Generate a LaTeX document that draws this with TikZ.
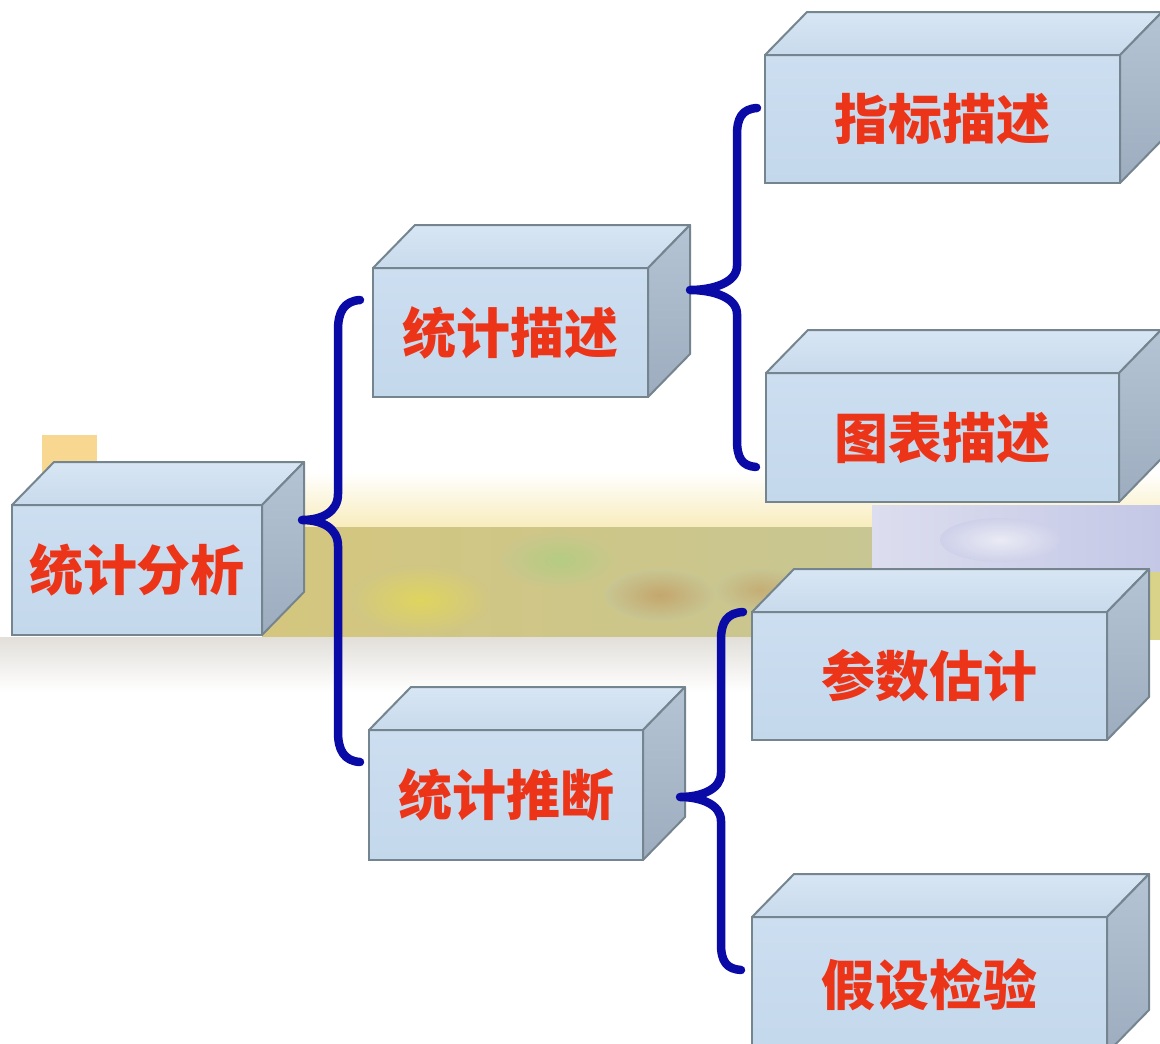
\documentclass[tikz,border=0pt]{standalone}
\usepackage{fontspec}
\newfontfamily\cjk{Noto Sans CJK SC}
\definecolor{frontA}{HTML}{CCDEF0}
\definecolor{frontB}{HTML}{C4D8EC}
\definecolor{topA}{HTML}{D8E6F4}
\definecolor{topB}{HTML}{C8DAEC}
\definecolor{sideA}{HTML}{B4C4D4}
\definecolor{sideB}{HTML}{9DADBF}
\definecolor{edge}{HTML}{75858F}
\definecolor{txtred}{HTML}{EC3418}
\definecolor{bracecol}{HTML}{0A0AA6}
\definecolor{bandyel}{HTML}{F8ECBC}
\definecolor{oliveA}{HTML}{D4C67E}
\definecolor{oliveB}{HTML}{C8C692}
\definecolor{lavA}{HTML}{DCDDEE}
\definecolor{lavB}{HTML}{C4C8E6}
\definecolor{shadowgray}{HTML}{E2DFDA}
\definecolor{orangesq}{HTML}{F8D890}
\begin{document}
\begin{tikzpicture}[x=1pt,y=-1pt,
  frontface/.style={draw=edge, line width=2pt, outer sep=0pt, inner sep=0pt,
    top color=frontA, bottom color=frontB,
    font=\cjk\bfseries\fontsize{54}{54}\selectfont, text=txtred},
  topface/.style={draw=edge, line width=2pt, line join=round, top color=topA, bottom color=topB},
  sideface/.style={draw=edge, line width=2pt, line join=round, top color=sideA, bottom color=sideB},
  bracestyle/.style={draw=bracecol, line width=8.5pt, line cap=round, line join=round}]
\clip (0,0) rectangle (1160,1044);
\fill[white] (0,0) rectangle (1160,1044);
% ---------- background band ----------
\fill[orangesq] (42,435) rectangle (97,478);
\shade[top color=white, bottom color=bandyel] (95,472) rectangle (1160,528);
\shade[left color=oliveA, right color=oliveB] (262,527) rectangle (872,637);
\shade[shading=radial, inner color=yellow!25!oliveA, outer color=oliveA!70!oliveB] (420,600) ellipse [x radius=70, y radius=35];
\shade[shading=radial, inner color=green!10!oliveB, outer color=oliveB!60!oliveA] (560,560) ellipse [x radius=60, y radius=28];
\shade[shading=radial, inner color=brown!45!oliveB, outer color=oliveB] (660,595) ellipse [x radius=55, y radius=26];
\shade[shading=radial, inner color=brown!35!oliveB, outer color=oliveB] (760,590) ellipse [x radius=45, y radius=22];
\shade[left color=lavA, right color=lavB] (872,505) rectangle (1160,572);
\shade[shading=radial, inner color=lavA!60!white, outer color=lavB!60!lavA] (1000,540) ellipse [x radius=60, y radius=22];
\fill[yellow!20!oliveB] (1145,572) rectangle (1160,640);
\shade[top color=shadowgray, bottom color=white] (0,637) rectangle (760,692);
% ---------- boxes ----------
\newcommand\cubefaces[1]{%
  \path[topface] (#1.north west) -- ([shift={(42,-43)}]#1.north west) -- ([shift={(42,-43)}]#1.north east) -- (#1.north east) -- cycle;
  \path[sideface] (#1.north east) -- ([shift={(42,-43)}]#1.north east) -- ([shift={(42,-43)}]#1.south east) -- (#1.south east) -- cycle;}
\node[frontface, minimum width=250, minimum height=130] (A) at (137,570) {统计分析};
\cubefaces{A}
\node[frontface, minimum width=275, minimum height=129] (B) at (510.5,332.5) {统计描述};
\cubefaces{B}
\node[frontface, minimum width=274, minimum height=130] (E) at (506,795) {统计推断};
\cubefaces{E}
\node[frontface, minimum width=355, minimum height=128] (C) at (942.5,119) {指标描述};
\cubefaces{C}
\node[frontface, minimum width=353, minimum height=129] (D) at (942.5,437.5) {图表描述};
\cubefaces{D}
\node[frontface, minimum width=355, minimum height=128] (F) at (929.5,676) {参数估计};
\cubefaces{F}
\node[frontface, minimum width=355, minimum height=136] (G) at (929.5,985) {假设检验};
\cubefaces{G}
% ---------- braces ----------
\coordinate (b1top) at (360,300);
\coordinate (b1tip) at (302,520);
\coordinate (b1bot) at (360,762);
\coordinate (b2top) at (757,108);
\coordinate (b2tip) at (690,290);
\coordinate (b2bot) at (756,467);
\coordinate (b3top) at (743,612);
\coordinate (b3tip) at (680,797);
\coordinate (b3bot) at (741,970);
\draw[bracestyle] (b1top) .. controls (344,301) and (338,312) .. (338,330) -- (338,494)
  .. controls (338,512) and (322,520) .. (b1tip)
  .. controls (322,520) and (338,528) .. (338,546) -- (338,732)
  .. controls (338,750) and (344,761) .. (b1bot);
\draw[bracestyle] (b2top) .. controls (742,109) and (737,118) .. (737,135) -- (737,266)
  .. controls (737,283) and (712,290) .. (b2tip)
  .. controls (712,290) and (737,297) .. (737,314) -- (737,440)
  .. controls (737,458) and (742,466) .. (b2bot);
\draw[bracestyle] (b3top) .. controls (727,613) and (721,622) .. (721,640) -- (721,773)
  .. controls (721,790) and (700,797) .. (b3tip)
  .. controls (700,797) and (721,804) .. (721,821) -- (721,944)
  .. controls (721,962) and (727,969) .. (b3bot);
\end{tikzpicture}
\end{document}
